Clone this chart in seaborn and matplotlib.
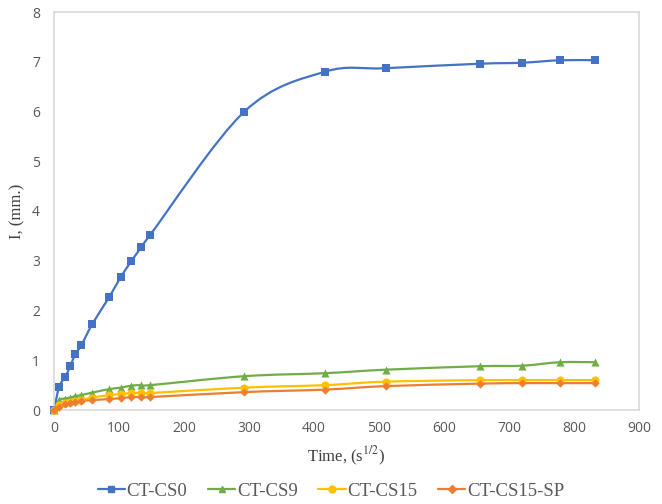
import numpy as np
import pandas as pd
import seaborn as sns
import matplotlib.pyplot as plt
from matplotlib.path import Path
from matplotlib.patches import PathPatch
from matplotlib.lines import Line2D

# data
time = [0, 8, 17, 25, 33, 42, 59, 85, 103, 119, 134, 148, 293, 417, 510, 655, 720, 778, 832]
cs0 = [0, 0.47, 0.66, 0.88, 1.13, 1.3, 1.73, 2.27, 2.68, 2.99, 3.27, 3.52, 6.0, 6.8, 6.87, 6.96, 6.98, 7.03, 7.03]
cs9 = [0, 0.2, 0.23, 0.25, 0.28, 0.3, 0.35, 0.42, 0.45, 0.49, 0.5, 0.5, 0.68, 0.74, 0.81, 0.88, 0.89, 0.96, 0.96]
cs15 = [0, 0.1, 0.14, 0.16, 0.18, 0.2, 0.25, 0.3, 0.32, 0.34, 0.34, 0.34, 0.45, 0.5, 0.57, 0.6, 0.6, 0.6, 0.6]
cs15sp = [0, 0.07, 0.12, 0.15, 0.16, 0.18, 0.2, 0.22, 0.24, 0.26, 0.26, 0.26, 0.36, 0.41, 0.48, 0.53, 0.54, 0.54, 0.54]

names = ["CT-CS0", "CT-CS9", "CT-CS15", "CT-CS15-SP"]
colors = ["#4472C4", "#70AD47", "#FFC000", "#ED7D31"]
markers = ["s", "^", "o", "D"]
sizes = [30, 34, 34, 18]

df = pd.DataFrame({"time": time * 4,
                   "val": cs0 + cs9 + cs15 + cs15sp,
                   "series": [n for n in names for _ in time]})

sns.set_theme(style="white")
plt.rcParams["mathtext.fontset"] = "stix"


def smooth_path(xs, ys):
    # excel-like smoothed line: catmull-rom segments as cubic bezier
    pts = np.column_stack([xs, ys]).astype(float)
    n = len(pts)
    verts = [pts[0]]
    codes = [Path.MOVETO]
    for i in range(n - 1):
        p0 = pts[i - 1] if i > 0 else pts[i]
        p1 = pts[i]
        p2 = pts[i + 1]
        p3 = pts[i + 2] if i + 2 < n else pts[i + 1]
        verts += [p1 + (p2 - p0) / 6, p2 - (p3 - p1) / 6, p2]
        codes += [Path.CURVE4] * 3
    return Path(verts, codes)


fig = plt.figure(figsize=(6.62, 5.04), dpi=100)
ax = fig.add_axes([54 / 662, 1 - 410 / 504, 585 / 662, 398 / 504])

for name, col in zip(names, colors):
    sub = df[df["series"] == name]
    ax.add_patch(PathPatch(smooth_path(sub["time"], sub["val"]), fill=False,
                           edgecolor=col, lw=1.6, zorder=2, clip_on=False))

for name, col, mk, sz in zip(names, colors, markers, sizes):
    sub = df[df["series"] == name]
    sns.scatterplot(data=sub, x="time", y="val", color=col, marker=mk, s=sz,
                    linewidth=0, ax=ax, zorder=3, clip_on=False, legend=False)

ax.set_xlim(0, 900)
ax.set_ylim(0, 8)
ax.set_xticks(range(0, 901, 100))
ax.set_yticks(range(0, 9))
for sp in ax.spines.values():
    sp.set_color("#D9D9D9")
    sp.set_linewidth(1.2)
ax.tick_params(length=0, labelsize=10, labelcolor="#595959")
ax.tick_params(axis="x", pad=8)
ax.tick_params(axis="y", pad=10)
for lab in ax.get_xticklabels() + ax.get_yticklabels():
    lab.set_family("Open Sans")

ax.set_xlabel("Time, (s$^{1/2}$)", family="Liberation Serif", fontsize=12,
              color="#404040", labelpad=6)
ax.set_ylabel("I, (mm.)", family="Liberation Serif", fontsize=12,
              color="#404040", labelpad=5)

handles = [Line2D([], [], color=c, marker=m, lw=1.6, markersize=5 if m != "D" else 4)
           for c, m in zip(colors, markers)]
leg = fig.legend(handles, names, loc="center", bbox_to_anchor=(331 / 662, 0.025),
                 ncol=4, frameon=False, handlelength=1.45, handletextpad=0.1,
                 columnspacing=1.1, prop={"family": "Liberation Serif", "size": 13.5})
for t in leg.get_texts():
    t.set_color("#595959")

fig.savefig("out.png", dpi=100)
